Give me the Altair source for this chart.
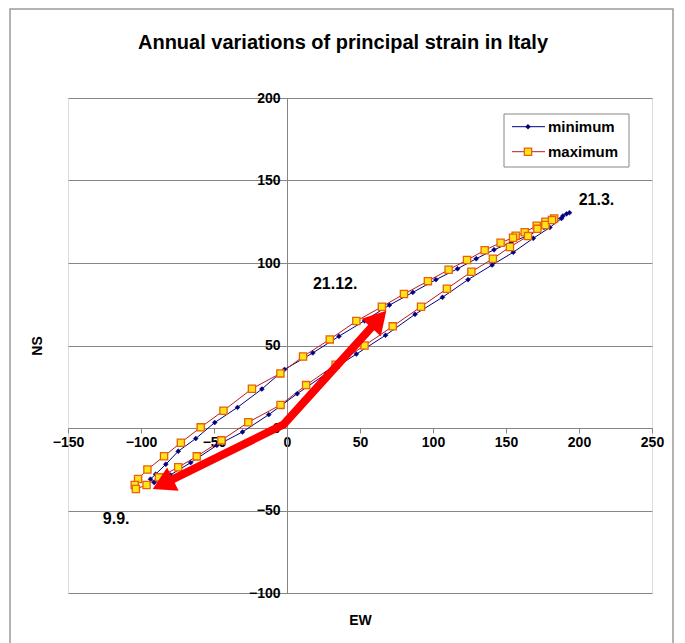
import math
import altair as alt
import pandas as pd

TITLE = "Annual variations of principal strain in Italy"
SERIES = ["minimum", "maximum"]

# Principal strain, minimum: EW / NS components around the yearly loop
min_ew = [193.5, 191.5, 189, 184, 176, 166, 153.5, 141.8, 129.6, 116.8, 102, 86.2,
          70.2, 53.1, 35.6, 17.7, -1.7, -17.2, -33.9, -49.5, -62.5, -74.5, -83, -90,
          -93.5,
          -91, -80, -66, -48, -30.5, -12.5, 7, 27, 47.5, 67.5, 87.7, 106.5, 124,
          140.5, 155, 168.7, 180, 188]
min_ns = [130.5, 129.8, 128.5, 126, 121.5, 117, 112.5, 108, 102.6, 96.5, 89.9, 82.2,
          74.5, 65, 55.6, 45.5, 35.5, 23.6, 12.5, 3.3, -6.4, -14.1, -22, -28,
          -31,
          -33, -28.5, -21, -10.5, -2.4, 8.1, 20.8, 33, 44.8, 56.2, 68.9, 79.2, 89.9,
          98.8, 106.5, 115, 121.5, 127]

# Principal strain, maximum
max_ew = [183, 177, 171, 162.8, 156.6, 154.8, 146.3, 135.4, 123.3, 110.7, 96.5, 80.1,
          65, 47.5, 29.3, 11, -4.5, -24, -43.5, -59.1, -72.7, -84.2, -95.6, -102,
          -104.3, -103.5,
          -96.2, -87.7, -74.5, -61.8, -44.9, -26.5, -4.4, 13.1, 33.3, 53.1, 72.4,
          91.8, 109.5, 126.3, 141, 152.7, 165.1, 171.5, 177, 181.5]
max_ns = [127, 125, 122.6, 118.6, 116.5, 115.3, 112.3, 107.7, 101.8, 95.9, 89, 81.2,
          73.5, 64.8, 53.7, 43.3, 33.1, 23.8, 10.5, 0.4, -8.9, -17.1, -25.2, -30.9,
          -34.5, -37,
          -34.5, -29.9, -23.8, -17.2, -7.5, 3.5, 14, 26, 38.4, 50, 61.6,
          73.5, 84.4, 94.7, 102.6, 109.7, 116.3, 120.7, 123, 126]

# Date annotations
date_text = ["21.3.", "21.12.", "9.9."]
date_ew = [212, 33, -117]
date_ns = [138, 87, -55]

# Direction arrow: lower-left tip, bend near the origin, upper-right tip
arrow_ew = [-92, -2.5, 68]
arrow_ns = [-37, 2, 71]

x_ticks = [-150, -100, -50, 0, 50, 100, 150, 200, 250]
y_ticks = [-100, -50, 0, 50, 100, 150, 200]

W, H = 584, 495
X_DOM = [-150, 250]
Y_DOM = [-100, 200]
PX_X = W / (X_DOM[1] - X_DOM[0])
PX_Y = H / (Y_DOM[1] - Y_DOM[0])
X0 = (0 - X_DOM[0]) * PX_X              # pixel column of EW = 0
Y0_FROM_BOTTOM = (0 - Y_DOM[0]) * PX_Y  # height of NS = 0 above the bottom

FONT = "Liberation Sans"
GRAY = "#868686"
NAVY = "#000080"
DARK_RED = "#C01818"
YELLOW = "#FFE419"
ORANGE = "#E8600A"
ARROW_RED = "#FF0000"

MARK_STYLE = {
    "minimum": dict(shape="diamond", filled=True, fill=NAVY, stroke=NAVY,
                    strokeWidth=0.5, size=24, opacity=1),
    "maximum": dict(shape="square", filled=True, fill=YELLOW, stroke=ORANGE,
                    strokeWidth=1.3, size=52, opacity=1),
}
LINE_COLOR = {"minimum": NAVY, "maximum": DARK_RED}

rows = []
for name, xs_, ys_ in (("minimum", min_ew, min_ns), ("maximum", max_ew, max_ns)):
    for i, (a, b) in enumerate(zip(xs_, ys_)):
        rows.append({"series": name, "seq": i, "EW": a, "NS": b})
df = pd.DataFrame(rows)

xs = alt.Scale(domain=X_DOM, nice=False, zero=False)
ys = alt.Scale(domain=Y_DOM, nice=False, zero=False)

# axes cross at the origin: pull each axis into the plot with a negative offset
x_axis = alt.Axis(
    orient="bottom", offset=-Y0_FROM_BOTTOM, values=x_ticks, grid=False,
    domainColor=GRAY, tickColor=GRAY, tickSize=5, labelFont=FONT, labelFontSize=14,
    labelFontWeight="bold", labelColor="black", labelPadding=2, labelFlush=False,
    labelOverlap=False, title="EW", titleFont=FONT, titleFontSize=14,
    titleFontWeight="bold", titleColor="black", titleX=W / 2,
    titleY=Y0_FROM_BOTTOM + 27, titleBaseline="middle", titleAnchor="middle",
)
y_axis = alt.Axis(
    orient="left", offset=-X0, values=y_ticks, grid=True,
    gridColor=GRAY, gridOpacity=1, domainColor=GRAY, tickColor=GRAY, tickSize=5,
    labelFont=FONT, labelFontSize=14, labelFontWeight="bold", labelColor="black",
    labelPadding=2, labelFlush=False, labelOverlap=False, title="NS",
    titleFont=FONT, titleFontSize=14, titleFontWeight="bold", titleColor="black",
    titleX=-X0 - 31, titleY=H / 2, titleAngle=270, titleBaseline="middle",
)

base = alt.Chart(df)

lines = base.mark_line(strokeWidth=1).encode(
    x=alt.X("EW:Q", scale=xs, axis=x_axis),
    y=alt.Y("NS:Q", scale=ys, axis=y_axis),
    color=alt.Color("series:N",
                    scale=alt.Scale(domain=SERIES, range=[LINE_COLOR[s] for s in SERIES]),
                    legend=None),
    order="seq:Q",
    detail="series:N",
)

point_layers = [
    base.transform_filter(alt.datum.series == s).mark_point(**MARK_STYLE[s])
    .encode(x="EW:Q", y="NS:Q")
    for s in SERIES
]

# arrow: shaft stops at the centre of each head, heads rotated toward the tips
HEAD = 26
head_h = math.sqrt(3) * HEAD / 4
head_x, head_y, head_angle = [], [], []
for tip, prev in ((0, 1), (2, 1)):
    dxp = (arrow_ew[tip] - arrow_ew[prev]) * PX_X
    dyp = (arrow_ns[tip] - arrow_ns[prev]) * PX_Y
    length = math.hypot(dxp, dyp)
    head_x.append(arrow_ew[tip] - dxp / length * head_h / PX_X)
    head_y.append(arrow_ns[tip] - dyp / length * head_h / PX_Y)
    head_angle.append(math.degrees(math.atan2(dxp, dyp)) % 360)
shaft = pd.DataFrame({"EW": [head_x[0], arrow_ew[1], head_x[1]],
                      "NS": [head_y[0], arrow_ns[1], head_y[1]],
                      "k": [0, 1, 2]})
heads = pd.DataFrame({"EW": head_x, "NS": head_y, "angle": head_angle})

arrow_line = alt.Chart(shaft).mark_line(
    color=ARROW_RED, strokeWidth=8, strokeJoin="round", strokeCap="butt"
).encode(x="EW:Q", y="NS:Q", order="k:Q")

arrow_heads = alt.Chart(heads).mark_point(
    shape="triangle-up", filled=True, color=ARROW_RED, size=HEAD * HEAD, opacity=1
).encode(x="EW:Q", y="NS:Q", angle=alt.Angle("angle:Q", scale=None))

dates = alt.Chart(pd.DataFrame({"EW": date_ew, "NS": date_ns, "t": date_text})).mark_text(
    font=FONT, fontSize=16, fontWeight="bold", color="black"
).encode(x="EW:Q", y="NS:Q", text="t:N")

one = alt.Data(values=[{}])

# chart-area border around everything
frame = alt.Chart(one).mark_rect(
    fill=None, stroke="#9a9a9a", strokeWidth=1.5
).encode(x=alt.value(-58), x2=alt.value(605), y=alt.value(-89), y2=alt.value(H + 80))

# legend box in the upper right of the plot
LEG_X, LEG_Y, LEG_W, LEG_H = 436, 16, 125, 53
LEG_ROW = 25
legend_layers = [
    alt.Chart(one).mark_rect(fill="white", stroke=GRAY, strokeWidth=1).encode(
        x=alt.value(LEG_X), x2=alt.value(LEG_X + LEG_W),
        y=alt.value(LEG_Y), y2=alt.value(LEG_Y + LEG_H))
]
for i, s in enumerate(SERIES):
    cy = LEG_Y + 12.7 + i * LEG_ROW
    legend_layers += [
        alt.Chart(one).mark_rule(color=LINE_COLOR[s], strokeWidth=1).encode(
            x=alt.value(LEG_X + 8), x2=alt.value(LEG_X + 41), y=alt.value(cy)),
        alt.Chart(one).mark_point(**MARK_STYLE[s]).encode(
            x=alt.value(LEG_X + 24), y=alt.value(cy)),
        alt.Chart(one).mark_text(
            font=FONT, fontSize=15, fontWeight="bold", color="black",
            align="left", baseline="middle"
        ).encode(x=alt.value(LEG_X + 44), y=alt.value(cy), text=alt.value(s)),
    ]

chart = alt.layer(
    frame, lines, *point_layers, arrow_line, arrow_heads, dates, *legend_layers
).properties(
    width=W, height=H,
    title=alt.TitleParams(TITLE, font=FONT, fontSize=20, fontWeight="bold",
                          color="black", anchor="middle", dx=-17, offset=-65,
                          baseline="bottom"),
    autosize=alt.AutoSizeParams(type="none"),
    padding={"left": 68, "top": 98, "right": 33, "bottom": 50},
).configure_view(
    stroke=GRAY, strokeWidth=1
).configure(
    background="white"
)

chart.save("out.html", embed_options={"renderer": "svg", "actions": False})
